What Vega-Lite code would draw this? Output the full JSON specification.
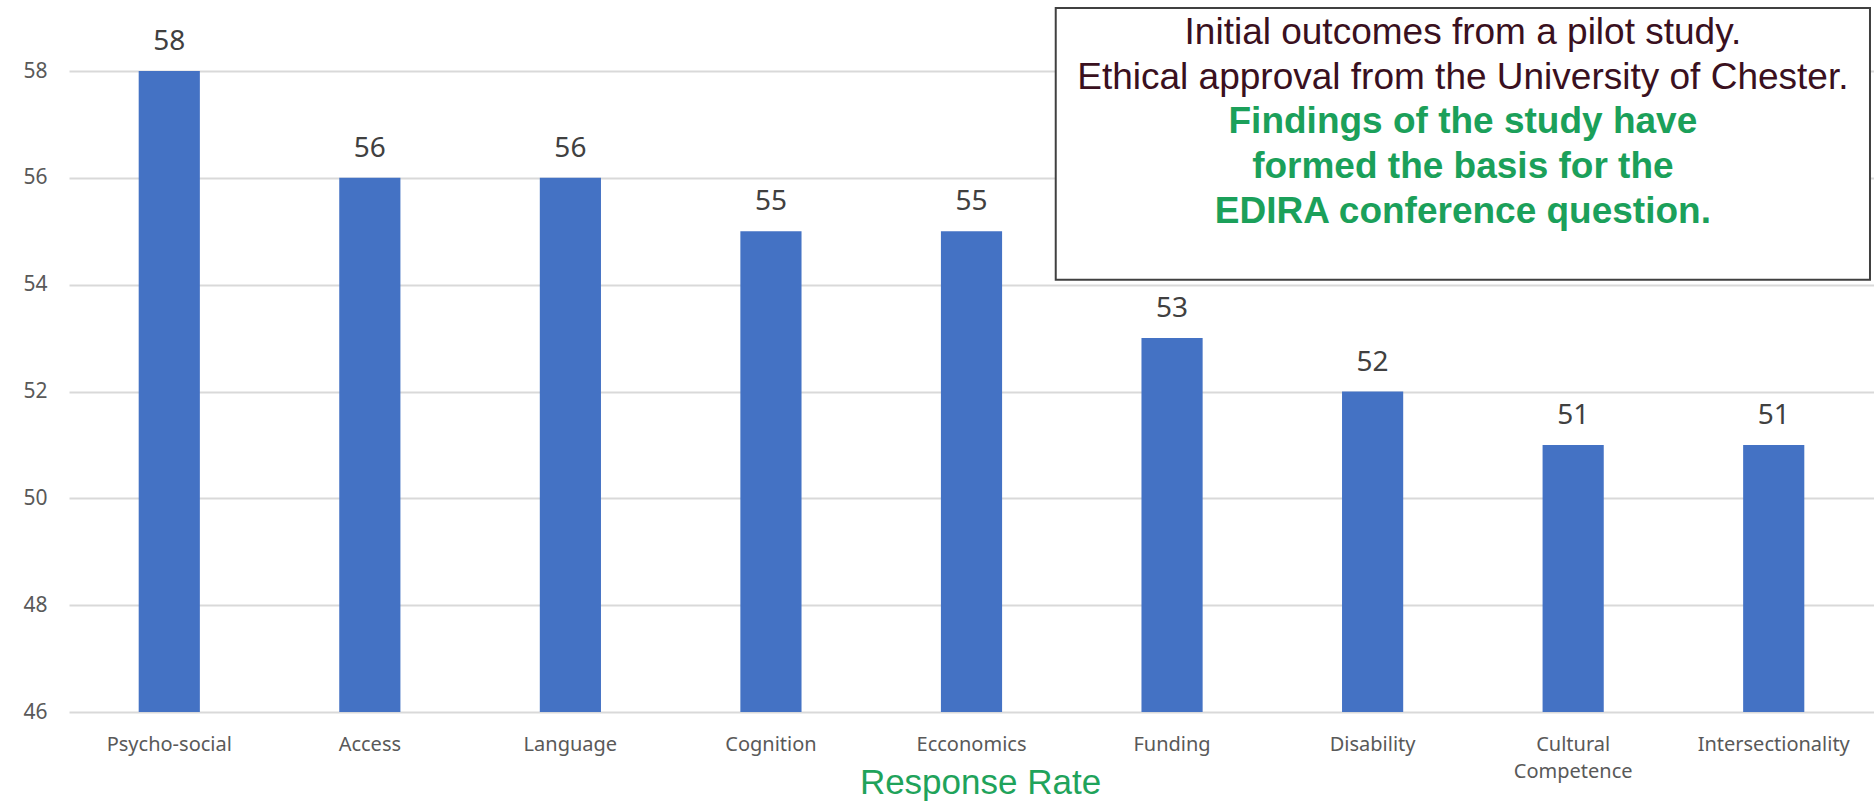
{
  "$schema": "https://vega.github.io/schema/vega-lite/v6.json",
  "width": 1805,
  "height": 641,
  "autosize": {"type": "none"},
  "padding": {"left": 69, "top": 71, "right": 0, "bottom": 90},
  "background": "white",
  "config": {"view": {"stroke": null}, "font": "Noto Sans"},
  "layer": [
    {
      "data": {
        "values": [
          {"category": "Psycho-social", "value": 58},
          {"category": "Access", "value": 56},
          {"category": "Language", "value": 56},
          {"category": "Cognition", "value": 55},
          {"category": "Ecconomics", "value": 55},
          {"category": "Funding", "value": 53},
          {"category": "Disability", "value": 52},
          {"category": "Cultural Competence", "value": 51},
          {"category": "Intersectionality", "value": 51}
        ]
      },
      "encoding": {
        "x": {
          "field": "category",
          "type": "nominal",
          "sort": null,
          "scale": {"paddingInner": 0.695, "paddingOuter": 0.3475},
          "axis": {
            "labelAngle": 0,
            "labelFont": "Noto Sans",
            "labelFontSize": 20,
            "labelColor": "#595959",
            "labelPadding": 22,
            "labelBaseline": "top",
            "labelLineHeight": 27,
            "labelExpr": "split(datum.label, ' ')",
            "ticks": false,
            "domain": false,
            "title": "Response Rate",
            "titleFont": "Liberation Sans",
            "titleFontSize": 35,
            "titleFontWeight": "normal",
            "titleColor": "#1fa35b",
            "titleX": 911,
            "titleY": 81,
            "titleBaseline": "alphabetic",
            "titleAlign": "center"
          }
        },
        "y": {
          "field": "value",
          "type": "quantitative",
          "scale": {"domain": [46, 58], "nice": false, "zero": false},
          "axis": {
            "values": [46, 48, 50, 52, 54, 56, 58],
            "format": "d",
            "grid": true,
            "gridColor": "#d9d9d9",
            "gridWidth": 2,
            "domain": false,
            "ticks": false,
            "labelPadding": 22,
            "labelFont": "Noto Sans",
            "labelFontSize": 21,
            "labelColor": "#595959",
            "title": null
          }
        }
      },
      "layer": [
        {
          "mark": {"type": "bar", "color": "#4472C4"},
          "encoding": {"y2": {"datum": 46}}
        },
        {
          "mark": {"type": "text", "dy": -21, "baseline": "alphabetic", "fontSize": 28, "color": "#404040", "font": "Noto Sans"},
          "encoding": {"text": {"field": "value", "type": "quantitative"}}
        }
      ]
    },
    {
      "data": {"values": [{}]},
      "layer": [
        {
          "mark": {"type": "rect", "fill": "white", "stroke": "#404040", "strokeWidth": 2},
          "encoding": {
            "x": {"datum": 4.92, "type": "quantitative", "scale": {"domain": [0, 9], "nice": false, "zero": false}, "axis": null},
            "x2": {"datum": 8.98},
            "y": {"datum": 59.18, "type": "quantitative", "scale": {"domain": [46, 58], "nice": false, "zero": false}},
            "y2": {"datum": 54.09}
          }
        },
        {
          "mark": {
            "type": "text",
            "align": "center",
            "baseline": "alphabetic",
            "font": "Liberation Sans",
            "fontSize": 37,
            "lineHeight": 44.8,
            "color": "#3a1020",
            "text": ["Initial outcomes from a pilot study.", "Ethical approval from the University of Chester."]
          },
          "encoding": {
            "x": {"datum": 6.95, "type": "quantitative"},
            "y": {"datum": 58.51, "type": "quantitative"}
          }
        },
        {
          "mark": {
            "type": "text",
            "align": "center",
            "baseline": "alphabetic",
            "font": "Liberation Sans",
            "fontSize": 37,
            "fontWeight": "bold",
            "lineHeight": 44.8,
            "color": "#1ba05a",
            "text": ["Findings of the study have", "formed the basis for the", "EDIRA conference question."]
          },
          "encoding": {
            "x": {"datum": 6.95, "type": "quantitative"},
            "y": {"datum": 56.84, "type": "quantitative"}
          }
        }
      ]
    }
  ],
  "resolve": {"scale": {"x": "independent"}, "axis": {"x": "independent"}}
}
